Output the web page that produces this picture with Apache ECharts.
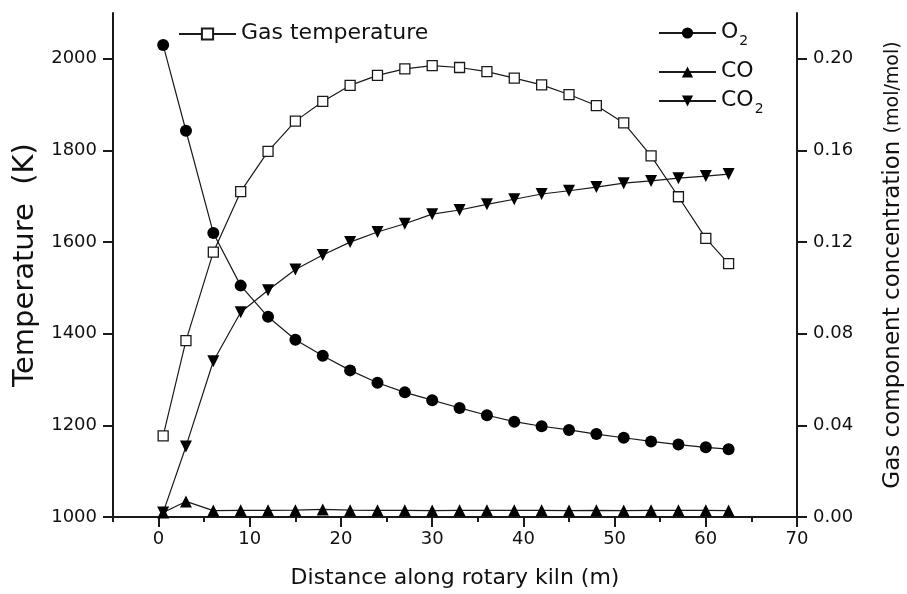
<!DOCTYPE html>
<html>
<head>
<meta charset="utf-8">
<script src="https://cdn.jsdelivr.net/npm/echarts@6/dist/echarts.min.js"></script>
<style>
  html, body { margin: 0; padding: 0; background: #fff; }
  #chart { width: 907px; height: 594px; }
</style>
</head>
<body>
<div id="chart"></div>
<script>
// Positions along the kiln (m)
const distance = [0.5, 3, 6, 9, 12, 15, 18, 21, 24, 27, 30, 33, 36, 39, 42, 45, 48, 51, 54, 57, 60, 62.5];

// Gas temperature (K)
const gasTemp = [1177, 1385, 1578, 1710, 1798, 1864, 1907, 1942, 1964, 1978, 1985, 1981, 1972, 1958, 1943, 1922, 1898, 1860, 1788, 1699, 1608, 1553];

// Gas component concentrations (mol/mol)
const o2 = [0.206, 0.1686, 0.124, 0.101, 0.0874, 0.0774, 0.0704, 0.064, 0.0586, 0.0544, 0.051, 0.0476, 0.0444, 0.0416, 0.0396, 0.038, 0.0362, 0.0346, 0.033, 0.0316, 0.0304, 0.0296];
const co = [0.002, 0.0068, 0.0028, 0.0029, 0.0029, 0.003, 0.0033, 0.003, 0.0029, 0.0029, 0.0028, 0.0029, 0.0029, 0.0029, 0.0029, 0.0028, 0.0029, 0.0028, 0.0029, 0.0029, 0.0029, 0.0028];
const co2 = [0.002, 0.0308, 0.068, 0.0894, 0.099, 0.108, 0.1144, 0.12, 0.1244, 0.128, 0.1322, 0.134, 0.1365, 0.1387, 0.141, 0.1424, 0.144, 0.1457, 0.1467, 0.1479, 0.1488, 0.1497];

// Axis ticks
const xMajorTicks = [0, 10, 20, 30, 40, 50, 60, 70];
const xMinorTicks = [-5, 5, 15, 25, 35, 45, 55, 65];
const tempTicks = [1000, 1200, 1400, 1600, 1800, 2000];
const concTicks = [0, 0.04, 0.08, 0.12, 0.16, 0.20];

const FONT = "'DejaVu Sans', 'Liberation Sans', Arial, sans-serif";
const INK = '#1a1a1a';
const TEXT = '#111';

const pairs = (ys) => distance.map((x, i) => [x, ys[i]]);

const axisLine = { show: true, onZero: false, lineStyle: { color: INK, width: 2 } };
const tickStyle = { color: INK, width: 2 };

const legendText = {
  fontFamily: FONT,
  fontSize: 22,
  color: TEXT,
  rich: {
    n: { fontFamily: FONT, fontSize: 22, color: TEXT, lineHeight: 24, verticalAlign: 'top' },
    s: { fontFamily: FONT, fontSize: 14, color: TEXT, lineHeight: 14, verticalAlign: 'top', padding: [13, 0, 0, 1] }
  }
};
const legendFormatter = (name) => {
  if (name === 'O2') return '{n|O}{s|2}';
  if (name === 'CO2') return '{n|CO}{s|2}';
  return '{n|' + name + '}';
};
const makeLegend = (name, left, top) => ({
  data: [name],
  left: left,
  top: top,
  padding: 0,
  itemWidth: 57,
  itemHeight: 14,
  itemGap: 6,
  selectedMode: false,
  formatter: legendFormatter,
  textStyle: legendText
});

const chart = echarts.init(document.getElementById('chart'), null, { renderer: 'canvas' });

chart.setOption({
  animation: false,
  backgroundColor: '#fff',
  textStyle: { fontFamily: FONT },
  grid: { left: 113, right: 110, top: 13, bottom: 77, containLabel: false, outerBoundsMode: 'none' },
  legend: [
    makeLegend('Gas temperature', 178, 22),
    makeLegend('O2', 658, 21),
    makeLegend('CO', 658, 60),
    makeLegend('CO2', 658, 89)
  ],
  xAxis: [
    {
      type: 'value',
      min: -5,
      max: 70,
      position: 'bottom',
      name: 'Distance along rotary kiln (m)',
      nameLocation: 'middle',
      nameGap: 50,
      nameTextStyle: { fontFamily: FONT, fontSize: 22, color: TEXT },
      axisLine: axisLine,
      axisTick: { show: true, customValues: xMajorTicks, length: 10, inside: false, lineStyle: tickStyle },
      axisLabel: { customValues: xMajorTicks, fontFamily: FONT, fontSize: 18, color: TEXT, margin: 13 },
      splitLine: { show: false }
    },
    {
      type: 'value',
      min: -5,
      max: 70,
      position: 'bottom',
      axisLine: { show: false, onZero: false },
      axisTick: { show: true, customValues: xMinorTicks, length: 5, inside: false, lineStyle: tickStyle },
      axisLabel: { show: false },
      splitLine: { show: false }
    }
  ],
  yAxis: [
    {
      type: 'value',
      min: 1000,
      max: 2100,
      position: 'left',
      name: 'Temperature  (K)',
      nameLocation: 'middle',
      nameRotate: 90,
      nameGap: 72,
      nameTextStyle: { fontFamily: FONT, fontSize: 29, color: TEXT },
      axisLine: axisLine,
      axisTick: { show: true, customValues: tempTicks, length: 10, inside: false, lineStyle: tickStyle },
      axisLabel: {
        customValues: tempTicks,
        fontFamily: FONT,
        fontSize: 18,
        color: TEXT,
        margin: 16,
        formatter: (v) => String(v)
      },
      splitLine: { show: false }
    },
    {
      type: 'value',
      min: 0,
      max: 0.22,
      position: 'right',
      name: '{a|Gas component concentration }{b|(mol/mol)}',
      nameLocation: 'middle',
      nameRotate: 90,
      nameGap: 85,
      nameTextStyle: {
        fontFamily: FONT,
        color: TEXT,
        rich: {
          a: { fontFamily: FONT, fontSize: 23, color: TEXT },
          b: { fontFamily: FONT, fontSize: 19, color: TEXT }
        }
      },
      axisLine: axisLine,
      axisTick: { show: true, customValues: concTicks, length: 10, inside: false, lineStyle: tickStyle },
      axisLabel: {
        customValues: concTicks,
        fontFamily: FONT,
        fontSize: 18,
        color: TEXT,
        margin: 16,
        formatter: (v) => v.toFixed(2)
      },
      splitLine: { show: false }
    }
  ],
  series: [
    {
      name: 'Gas temperature',
      type: 'line',
      xAxisIndex: 0,
      yAxisIndex: 0,
      data: pairs(gasTemp),
      symbol: 'rect',
      symbolSize: 10,
      showAllSymbol: true,
      lineStyle: { color: INK, width: 1.2 },
      itemStyle: { color: '#fff', borderColor: INK, borderWidth: 1.3 },
      z: 3
    },
    {
      name: 'O2',
      type: 'line',
      xAxisIndex: 0,
      yAxisIndex: 1,
      data: pairs(o2),
      symbol: 'circle',
      symbolSize: 12,
      showAllSymbol: true,
      lineStyle: { color: INK, width: 1.2 },
      itemStyle: { color: '#000' },
      z: 4
    },
    {
      name: 'CO',
      type: 'line',
      xAxisIndex: 0,
      yAxisIndex: 1,
      data: pairs(co),
      symbol: 'triangle',
      symbolSize: 12,
      showAllSymbol: true,
      lineStyle: { color: INK, width: 1.2 },
      itemStyle: { color: '#000' },
      z: 4
    },
    {
      name: 'CO2',
      type: 'line',
      xAxisIndex: 0,
      yAxisIndex: 1,
      data: pairs(co2),
      symbol: 'triangle',
      symbolRotate: 180,
      symbolSize: 12,
      showAllSymbol: true,
      lineStyle: { color: INK, width: 1.2 },
      itemStyle: { color: '#000' },
      z: 4
    }
  ]
});
</script>
</body>
</html>
